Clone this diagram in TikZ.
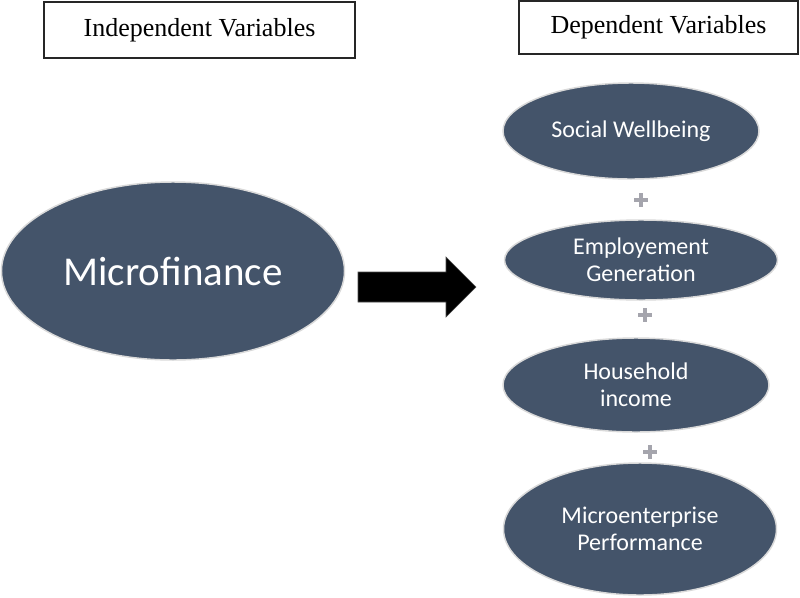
\documentclass[tikz,border=0pt]{standalone}
\usepackage{fontspec}
\newfontfamily\serifA{Liberation Serif}
\newfontfamily\calib{Carlito}
\definecolor{ellfill}{HTML}{44546A}
\definecolor{ellline}{HTML}{D9D9D9}
\definecolor{plusgray}{HTML}{A5A5AD}
\usetikzlibrary{shapes.geometric}
\begin{document}
\begin{tikzpicture}[x=0.75pt,y=-0.75pt,
  labelbox/.style={draw=black!85,line width=0.9pt,inner sep=0pt,
    font=\serifA\fontsize{19.5}{22}\selectfont},
  ell/.style={ellipse,fill=ellfill,draw=ellline,line width=1.1pt,inner sep=0pt,
    text=white,align=center,font=\calib\fontsize{18}{20.25}\selectfont},
  plussign/.style={minimum size=10.5pt,inner sep=0pt,
    path picture={\draw[plusgray,line width=3pt]
      (path picture bounding box.west) -- (path picture bounding box.east)
      (path picture bounding box.north) -- (path picture bounding box.south);}},
  bigarrow/.style={fill=black,draw=black!70,line width=0.4pt}]
\useasboundingbox (0,0) rectangle (800,597);
\fill[white] (0,0) rectangle (800,597);

\node[labelbox,minimum width=233.25pt,minimum height=42pt] (indep) at (199.5,30) {Independent Variables};
\node[labelbox,minimum width=209.25pt,minimum height=39.75pt] (dep) at (658.5,27.5) {Dependent Variables};

\node[ell,minimum width=257.25pt,minimum height=133.5pt,
  font=\calib\fontsize{30.75}{34}\selectfont] (micro) at (173,271) {Microfinance};

\node[ell,minimum width=192pt,minimum height=72pt] (social) at (631,131) {Social Wellbeing};
\node[ell,minimum width=204.75pt,minimum height=60pt] (employ) at (641,260) {Employement\\Generation};
\node[ell,minimum width=199.5pt,minimum height=70.5pt] (house) at (636,385) {Household\\income};
\node[ell,minimum width=204.75pt,minimum height=99pt] (mep) at (640,529) {Microenterprise\\Performance};

\node[plussign] (p1) at (641,200) {};
\node[plussign] (p2) at (645,315) {};
\node[plussign] (p3) at (650,452) {};

\coordinate (a1) at (358,272);
\coordinate (a2) at (446,272);
\coordinate (a3) at (446,257);
\coordinate (tip) at (476,287);
\coordinate (a5) at (446,317);
\coordinate (a6) at (446,302);
\coordinate (a7) at (358,302);
\path[bigarrow] (a1) -- (a2) -- (a3) -- (tip) -- (a5) -- (a6) -- (a7) -- cycle;
\end{tikzpicture}
\end{document}
